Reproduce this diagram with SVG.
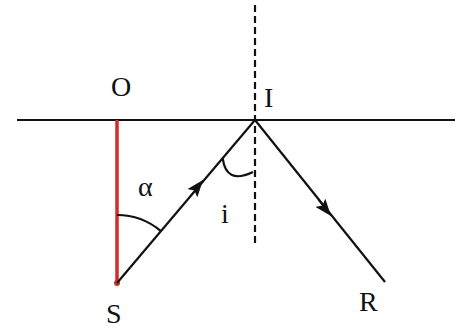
<svg xmlns="http://www.w3.org/2000/svg" width="462" height="328" viewBox="0 0 462 328">
<style>
.t{font-family:"Liberation Serif","DejaVu Serif",serif;font-size:28px;fill:#111}
.l{stroke:#111;stroke-width:2.2;fill:none}
</style>
<defs>
<marker id="ah" viewBox="0 0 10 10" refX="10" refY="5" markerWidth="17" markerHeight="13" markerUnits="userSpaceOnUse" orient="auto" preserveAspectRatio="none">
<path d="M0,0 L10,5 L0,10 L2,5 Z" fill="#111"/>
</marker>
</defs>
<rect width="462" height="328" fill="#fff"/>
<g id="mirror">
<line class="l" x1="17" y1="120" x2="455" y2="120" stroke-width="1.8"/>
<line class="l" x1="117" y1="120" x2="255" y2="120" stroke-width="3"/>
</g>
<g id="normal">
<line x1="255" y1="5" x2="255" y2="246" stroke="#111" stroke-width="2.2" stroke-dasharray="7,4"/>
</g>
<g id="SO">
<line x1="117" y1="120" x2="117" y2="283" stroke="#d42a2a" stroke-width="3.5"/>
<circle cx="117" cy="283" r="3" fill="#c03030"/>
</g>
<g id="connectors">
<line class="l" x1="117" y1="283" x2="255" y2="120"/>
<line class="l" x1="255" y1="120" x2="385" y2="282"/>
<path d="M190,196 L203,180" stroke="#111" stroke-width="1" marker-end="url(#ah)" fill="none"/>
<path d="M318,200 L331,216" stroke="#111" stroke-width="1" marker-end="url(#ah)" fill="none"/>
<path class="l" d="M117,215 A68,68 0 0 1 160.9,231.1" stroke-width="1.8"/>
<path class="l" d="M222.7,158.2 Q226,185 253,172" stroke-width="1.8"/>
</g>
<g id="labels">
<text class="t" x="111" y="96">O</text>
<text class="t" x="264" y="107">I</text>
<text class="t" x="138" y="196" font-size="30">α</text>
<text class="t" x="221" y="223">i</text>
<text class="t" x="106" y="323">S</text>
<text class="t" x="359" y="311">R</text>
</g>
</svg>
